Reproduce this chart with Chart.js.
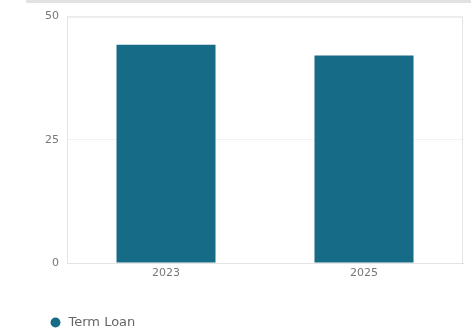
<!DOCTYPE html>
<html>
<head>
<meta charset="utf-8">
<script src="https://cdn.jsdelivr.net/npm/chart.js@4"></script>
<style>
  html, body { margin: 0; padding: 0; background: #fff; overflow: hidden; }
  .topbar { position: absolute; left: 26px; top: 0; width: 445px; height: 3px; background: #e2e2e2; }
  #barChart { position: absolute; left: 40px; top: 2px; }
</style>
</head>
<body>
<div class="topbar"></div>
<canvas id="barChart" width="431" height="337"></canvas>
<script>
const years = ['2023', '2025'];
const termLoan = [44.3, 42.1];
const yTicks = [0, 25, 50];

new Chart(document.getElementById('barChart').getContext('2d'), {
    type: 'bar',
    data: {
        labels: years,
        datasets: [{
            label: 'Term Loan',
            data: termLoan,
            backgroundColor: '#166b86',
            barPercentage: 0.5,
            categoryPercentage: 1.0
        }]
    },
    options: {
        responsive: false,
        animation: false,
        layout: { padding: { left: 5, right: 8, top: 1, bottom: 0 } },
        plugins: {
            legend: {
                position: 'bottom',
                align: 'start',
                labels: {
                    usePointStyle: true,
                    pointStyle: 'circle',
                    boxWidth: 14,
                    boxHeight: 7,
                    padding: 4,
                    color: '#666',
                    font: { family: 'DejaVu Sans', size: 13 }
                }
            },
            tooltip: { enabled: false }
        },
        scales: {
            x: {
                grid: { display: false, drawTicks: false },
                border: { color: '#ddd' },
                afterFit: axis => { axis.height = 49; },
                ticks: { color: '#777', padding: 4, font: { family: 'DejaVu Sans', size: 11 } }
            },
            y: {
                min: 0,
                max: 50,
                afterBuildTicks: axis => { axis.ticks = yTicks.map(v => ({ value: v })); },
                afterFit: axis => { axis.width = 22; },
                grid: { color: '#f2f2f2', drawTicks: false },
                border: { color: '#ddd' },
                ticks: { color: '#777', padding: 8, font: { family: 'DejaVu Sans', size: 11 } }
            }
        }
    },
    plugins: [{
        id: 'frame',
        afterDraw(chart) {
            const a = chart.chartArea, c = chart.ctx;
            c.save();
            c.strokeStyle = '#e4e4e4';
            c.lineWidth = 1;
            c.strokeRect(a.left + 0.5, a.top + 0.5, a.right - a.left - 1, a.bottom - a.top);
            c.restore();
        }
    }]
});
</script>
</body>
</html>
